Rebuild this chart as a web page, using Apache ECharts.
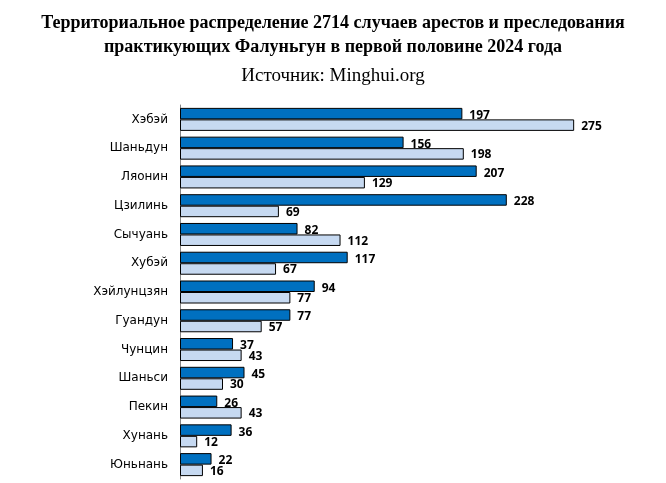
<!DOCTYPE html>
<html>
<head>
<meta charset="utf-8">
<script src="https://cdn.jsdelivr.net/npm/echarts@6/dist/echarts.min.js"></script>
<style>
  html, body { margin: 0; padding: 0; background: #fff; }
  #chart { width: 666px; height: 483px; }
</style>
</head>
<body>
<div id="chart"></div>
<script>
// регионы сверху вниз
const regions = ['Хэбэй', 'Шаньдун', 'Ляонин', 'Цзилинь', 'Сычуань', 'Хубэй', 'Хэйлунцзян', 'Гуандун', 'Чунцин', 'Шаньси', 'Пекин', 'Хунань', 'Юньнань']
const darkValues = [197, 156, 207, 228, 82, 117, 94, 77, 37, 45, 26, 36, 22]
const lightValues = [275, 198, 129, 69, 112, 67, 77, 57, 43, 30, 43, 12, 16]

const chart = echarts.init(document.getElementById('chart'))

const labelStyle = {
  show: true,
  position: 'right',
  distance: 7,
  color: '#000',
  fontFamily: 'Open Sans',
  fontWeight: 'bold',
  fontSize: 12,
}

const option = {
  animation: false,
  title: [
    {
      text: 'Территориальное распределение 2714 случаев арестов и преследования\nпрактикующих Фалуньгун в первой половине 2024 года',
      left: 'center',
      top: 6,
      textStyle: {
        fontFamily: 'Liberation Serif',
        fontWeight: 'bold',
        fontSize: 18,
        lineHeight: 24,
        color: '#000',
      },
    },
    {
      text: 'Источник: Minghui.org',
      left: 'center',
      top: 62,
      textStyle: {
        fontFamily: 'Liberation Serif',
        fontWeight: 'normal',
        fontSize: 19,
        color: '#000',
      },
    },
  ],
  grid: {
    left: 180,
    top: 105,
    width: 430,
    bottom: 4,
  },
  xAxis: {
    type: 'value',
    min: 0,
    max: 300,
    show: false,
  },
  yAxis: {
    type: 'category',
    data: regions,
    inverse: true,
    axisLine: {
      lineStyle: { color: '#868686', width: 1 },
    },
    axisTick: { show: false },
    axisLabel: {
      color: '#000',
      fontFamily: 'DejaVu Sans',
      fontSize: 12,
      margin: 12,
    },
  },
  series: [
    {
      type: 'bar',
      data: darkValues,
      barWidth: 11.5,
      barGap: '0%',
      itemStyle: { color: '#0070C0', borderColor: '#000', borderWidth: 1 },
      label: { ...labelStyle, offset: [0, 2] },
    },
    {
      type: 'bar',
      data: lightValues,
      barWidth: 11.5,
      itemStyle: { color: '#C6D9F1', borderColor: '#000', borderWidth: 1 },
      label: { ...labelStyle, offset: [0, 1] },
    },
  ],
}

chart.setOption(option)
</script>
</body>
</html>
